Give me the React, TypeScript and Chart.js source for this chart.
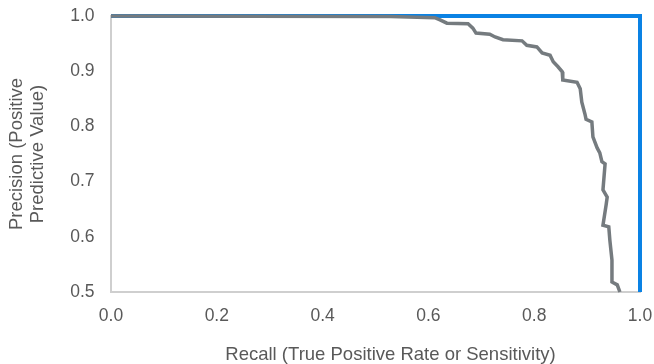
import React, { useEffect, useRef } from "react";
import { Chart, registerables } from "chart.js";

Chart.register(...registerables);

const modelRecall = [
  0, 0.529, 0.612, 0.622, 0.635, 0.675, 0.684, 0.69, 0.716, 0.726, 0.741, 0.777,
  0.786, 0.805, 0.815, 0.83, 0.836, 0.845, 0.853, 0.854, 0.881, 0.887, 0.89,
  0.896, 0.898, 0.909, 0.911, 0.919, 0.924, 0.928, 0.934, 0.93, 0.938, 0.936,
  0.93, 0.941, 0.943, 0.947, 0.947, 0.957, 0.962,
];
const modelPrecision = [
  1, 0.999, 0.997, 0.993, 0.987, 0.986, 0.978, 0.969, 0.967, 0.962, 0.957, 0.955,
  0.947, 0.944, 0.933, 0.929, 0.917, 0.908, 0.899, 0.884, 0.88, 0.868, 0.844,
  0.822, 0.813, 0.808, 0.781, 0.761, 0.752, 0.736, 0.732, 0.685, 0.672, 0.658,
  0.621, 0.618, 0.594, 0.558, 0.518, 0.513, 0.5,
];
const perfectRecall = [0, 1, 1];
const perfectPrecision = [1, 1, 0.5];

const xTitle = "Recall (True Positive Rate or Sensitivity)";
const yTitle = ["Precision (Positive", "Predictive Value)"];

const FAMILY = "'Liberation Sans', Arial, sans-serif";
const TEXT_COLOR = "#595959";

// Draws the x-axis title, centred slightly right of the plot centre as in the original.
const xTitlePlugin = {
  id: "xTitle",
  afterDraw(chart: any) {
    const { ctx, chartArea, height } = chart;
    ctx.save();
    ctx.font = `18.5px ${FAMILY}`;
    ctx.fillStyle = TEXT_COLOR;
    ctx.textAlign = "center";
    ctx.textBaseline = "middle";
    ctx.fillText(xTitle, (chartArea.left + chartArea.right) / 2 + 15, height - 9);
    ctx.restore();
  },
};

export default function App() {
  const ref = useRef<HTMLCanvasElement | null>(null);

  useEffect(() => {
    document.body.style.margin = "0";
    const canvas = ref.current;
    if (!canvas) return;
    const chart = new Chart(canvas, {
      type: "line",
      data: {
        datasets: [
          {
            label: "Model",
            data: modelRecall.map((x, i) => ({ x, y: modelPrecision[i] })),
            borderColor: "#757b7f",
            borderWidth: 3.5,
            pointRadius: 0,
            tension: 0,
            fill: false,
            clip: 6,
          },
          {
            label: "Perfect",
            data: perfectRecall.map((x, i) => ({ x, y: perfectPrecision[i] })),
            borderColor: "#0a82e4",
            borderWidth: 4,
            pointRadius: 0,
            tension: 0,
            fill: false,
            clip: 6,
          },
        ],
      },
      options: {
        animation: false,
        responsive: false,
        devicePixelRatio: 1,
        layout: { padding: { left: 0, right: 14, top: 16, bottom: 0 } },
        plugins: {
          legend: { display: false },
          tooltip: { enabled: false },
        },
        scales: {
          x: {
            type: "linear",
            min: 0,
            max: 1,
            grid: { display: false, drawTicks: false },
            border: { display: true, color: "#cfcfcf", width: 2 },
            ticks: {
              stepSize: 0.2,
              padding: 14,
              color: TEXT_COLOR,
              font: { family: FAMILY, size: 17.5 },
              callback: (v: any) => Number(v).toFixed(1),
            },
            title: { display: false },
            afterFit: (s: any) => {
              s.height = 72;
              s.paddingLeft = 0;
              s.paddingRight = 0;
            },
          },
          y: {
            type: "linear",
            min: 0.5,
            max: 1,
            grid: { display: false, drawTicks: false },
            border: { display: true, color: "#cfcfcf", width: 2 },
            ticks: {
              stepSize: 0.1,
              padding: 16.5,
              color: TEXT_COLOR,
              font: { family: FAMILY, size: 17.5 },
              callback: (v: any) => Number(v).toFixed(1),
            },
            title: {
              display: true,
              text: yTitle,
              color: TEXT_COLOR,
              font: { family: FAMILY, size: 18.5, lineHeight: 1.11 },
              padding: { top: 6.7, bottom: 0 },
            },
            afterFit: (s: any) => {
              s.width = 111;
              s.paddingTop = 0;
              s.paddingBottom = 0;
            },
          },
        },
      },
      plugins: [xTitlePlugin],
    });
    return () => chart.destroy();
  }, []);

  return (
    <div style={{ width: 654, height: 364, position: "relative" }}>
      <canvas ref={ref} width={654} height={364} style={{ width: 654, height: 364, display: "block" }} />
    </div>
  );
}
